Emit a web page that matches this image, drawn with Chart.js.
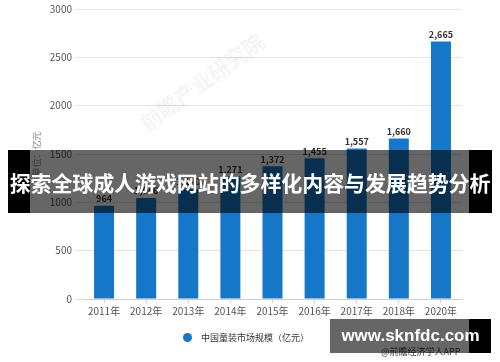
<!DOCTYPE html>
<html>
<head>
<meta charset="utf-8">
<script src="https://cdn.jsdelivr.net/npm/chart.js@4.4.0/dist/chart.umd.min.js"></script>
<style>
  html, body { margin: 0; padding: 0; background: #fff; }
  #wrap { position: relative; width: 500px; height: 362px; overflow: hidden; font-family: "Noto Sans CJK SC", "Noto Sans", sans-serif; }
  #c { position: absolute; left: 0; top: 0; }
  .abs { position: absolute; }
  #wm { left: 133px; top: 112px; transform: rotate(-36deg); transform-origin: left top; color: rgba(0,0,0,0.045); font-size: 21px; font-weight: bold; white-space: nowrap; }
  #legend { left: 183px; top: 330px; height: 14px; display: flex; align-items: center; font-size: 9px; color: #333; white-space: nowrap; }
  #legend .dot { width: 9px; height: 9px; border-radius: 50%; background: #1677c9; margin-right: 9px; }
  #bannerL { left: 8px; top: 150px; width: 22px; height: 63px; background: #000; }
  #bannerM { left: 30px; top: 150px; width: 439px; height: 63px; background: rgba(0,0,0,0.6); }
  #bannerR { left: 469px; top: 150px; width: 23px; height: 63px; background: #000; }
  #bannerT { left: 8px; top: 150px; width: 484px; height: 63px; display: flex; align-items: center; justify-content: center; color: #fff; font-weight: bold; font-size: 21px; letter-spacing: -0.1px; white-space: nowrap; }
  #siteM { left: 330px; top: 319px; width: 139px; height: 34px; background: rgba(0,0,0,0.6); }
  #siteR { left: 469px; top: 319px; width: 22px; height: 34px; background: #000; }
  #siteT { left: 330px; top: 319px; width: 161px; height: 34px; display: flex; align-items: center; justify-content: center; color: #fff; font-weight: bold; font-size: 17px; font-family: "Liberation Sans", Arial, sans-serif; white-space: nowrap; }
  #src { left: 381px; top: 345px; font-size: 9px; color: #444; white-space: nowrap; }
</style>
</head>
<body>
<div id="wrap">
  <canvas id="c" width="500" height="362"></canvas>
  <div class="abs" id="wm">前瞻产业研究院</div>
  <div class="abs" id="legend"><span class="dot"></span><span>中国童装市场规模（亿元）</span></div>
  <div class="abs" id="bannerL"></div>
  <div class="abs" id="bannerM"></div>
  <div class="abs" id="bannerR"></div>
  <div class="abs" id="bannerT">探索全球成人游戏网站的多样化内容与发展趋势分析</div>
  <div class="abs" id="src">@前瞻经济学人APP</div>
  <div class="abs" id="siteM"></div>
  <div class="abs" id="siteR"></div>
  <div class="abs" id="siteT">www.sknfdc.com</div>
</div>
<script>
const categories = ["2011年", "2012年", "2013年", "2014年", "2015年", "2016年", "2017年", "2018年", "2020年"];
const marketSize = [964, 1046, 1140, 1271, 1372, 1455, 1557, 1660, 2665];
const yTicks = [0, 500, 1000, 1500, 2000, 2500, 3000];
const seriesName = "中国童装市场规模（亿元）";
const yTitle = "单位：亿元";

const FONT = '"Noto Sans CJK SC", "Noto Sans", sans-serif';

const dataLabels = {
  id: 'dataLabels',
  afterDatasetsDraw(chart) {
    const ctx = chart.ctx;
    const meta = chart.getDatasetMeta(0);
    ctx.save();
    ctx.font = 'bold 9px ' + FONT;
    ctx.fillStyle = '#333';
    ctx.textAlign = 'center';
    ctx.textBaseline = 'middle';
    meta.data.forEach((bar, i) => {
      ctx.fillText(marketSize[i].toLocaleString('en-US'), bar.x, bar.y - 7);
    });
    ctx.restore();
  }
};

new Chart(document.getElementById('c'), {
  type: 'bar',
  data: {
    labels: categories,
    datasets: [{
      label: seriesName,
      data: marketSize,
      backgroundColor: '#1677c9',
      borderWidth: 0,
      categoryPercentage: 1,
      barPercentage: 0.475
    }]
  },
  options: {
    responsive: false,
    animation: false,
    devicePixelRatio: 1,
    layout: { padding: { top: 9, right: 38, bottom: 40, left: 0 } },
    plugins: {
      legend: { display: false },
      tooltip: { enabled: false }
    },
    scales: {
      x: {
        offset: true,
        grid: { display: true, drawOnChartArea: false, drawTicks: true, tickLength: 4, offset: false, color: '#d0d0d0' },
        border: { display: true, color: '#d0d0d0' },
        ticks: { color: '#555', font: { family: FONT, size: 10 }, padding: 2, maxRotation: 0, autoSkip: false },
        afterFit(scale) { scale.height = 23; }
      },
      y: {
        min: 0,
        max: 3000,
        afterBuildTicks(scale) { scale.ticks = yTicks.map(v => ({ value: v })); },
        grid: { color: '#e3e3e3', tickLength: 8 },
        border: { display: false },
        ticks: { color: '#555', font: { family: FONT, size: 10 }, padding: 3, callback: v => String(v) },
        title: { display: true, text: yTitle, color: '#888', font: { family: FONT, size: 9 }, padding: { top: 31, bottom: 0 } },
        afterFit(scale) { scale.width = 83; }
      }
    }
  },
  plugins: [dataLabels]
});
</script>
</body>
</html>
